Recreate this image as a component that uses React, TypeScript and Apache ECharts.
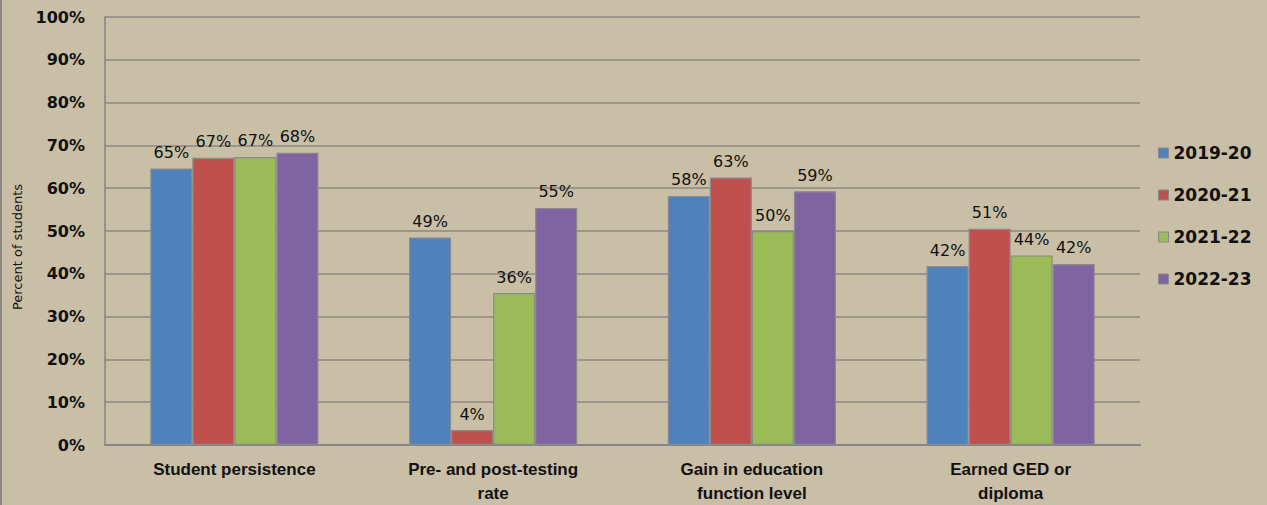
import React, { useEffect, useRef } from "react";
import * as echarts from "echarts";

const categories = [
  "Student persistence",
  "Pre- and post-testing\nrate",
  "Gain in education\nfunction level",
  "Earned GED or\ndiploma",
];
const seriesNames = ["2019-20", "2020-21", "2021-22", "2022-23"];
const values2019 = [64.6, 48.5, 58.2, 41.8];
const values2020 = [67.1, 3.5, 62.5, 50.5];
const values2021 = [67.3, 35.5, 50.0, 44.3];
const values2022 = [68.3, 55.4, 59.3, 42.3];
const yTicks = [0, 10, 20, 30, 40, 50, 60, 70, 80, 90, 100];

const colors = ["#4F81BD", "#C0504D", "#9BBB59", "#8064A2"];
const allValues = [values2019, values2020, values2021, values2022];

export default function App() {
  const ref = useRef<HTMLDivElement>(null);
  useEffect(() => {
    if (!ref.current) return;
    const chart = echarts.init(ref.current, undefined, { renderer: "svg" });
    const numFont = "'DejaVu Sans', sans-serif";
    chart.setOption({
      animation: false,
      backgroundColor: "#C9BEA6",
      grid: { left: 105, right: 127, top: 17, bottom: 60, containLabel: false },
      legend: {
        orient: "vertical",
        left: 1153,
        top: 138,
        itemWidth: 10,
        itemHeight: 10,
        itemGap: 22,
        icon: "rect",
        data: seriesNames,
        itemStyle: { borderColor: "#8a8a8a", borderWidth: 1 },
        textStyle: {
          fontFamily: numFont,
          fontWeight: "bold",
          fontSize: 17,
          color: "#111",
          lineHeight: 20,
        },
      },
      graphic: [
        {
          type: "line",
          shape: { x1: 1, y1: 0, x2: 1, y2: 505 },
          style: { stroke: "#8c8780", lineWidth: 2 },
        },
        {
          type: "text",
          x: 17,
          y: 247,
          rotation: Math.PI / 2,
          style: {
            text: "Percent of students",
            fontFamily: numFont,
            fontSize: 13,
            fill: "#111",
            align: "center",
            verticalAlign: "middle",
          },
        },
      ],
      xAxis: {
        type: "category",
        data: categories,
        axisTick: { show: false },
        axisLine: { show: true, lineStyle: { color: "#858585", width: 2 } },
        axisLabel: {
          interval: 0,
          margin: 12,
          fontFamily: "'Liberation Sans', Arial, sans-serif",
          fontWeight: "bold",
          fontSize: 17,
          lineHeight: 24,
          color: "#111",
        },
      },
      yAxis: {
        type: "value",
        min: yTicks[0],
        max: yTicks[yTicks.length - 1],
        interval: 10,
        axisLine: { show: true, lineStyle: { color: "#858585", width: 1.5 } },
        axisTick: { show: false },
        splitLine: { show: true, lineStyle: { color: "#8c8780", width: 1.5 } },
        axisLabel: {
          margin: 20,
          fontFamily: numFont,
          fontWeight: "bold",
          fontSize: 16,
          color: "#111",
          formatter: (v: number) => v + "%",
        },
      },
      series: seriesNames.map((name, i) => ({
        name,
        type: "bar",
        data: allValues[i],
        barGap: "0%",
        barCategoryGap: "35%",
        itemStyle: { color: colors[i], borderColor: "#8a8a8a", borderWidth: 1.2 },
        label: {
          show: true,
          position: "top",
          distance: 8,
          fontFamily: numFont,
          fontSize: 16,
          color: "#111",
          formatter: (p: any) => Math.round(p.value) + "%",
        },
      })),
    });
    return () => chart.dispose();
  }, []);
  return (
    <div
      ref={ref}
      style={{ position: "absolute", left: 0, top: 0, width: 1267, height: 505 }}
    />
  );
}
